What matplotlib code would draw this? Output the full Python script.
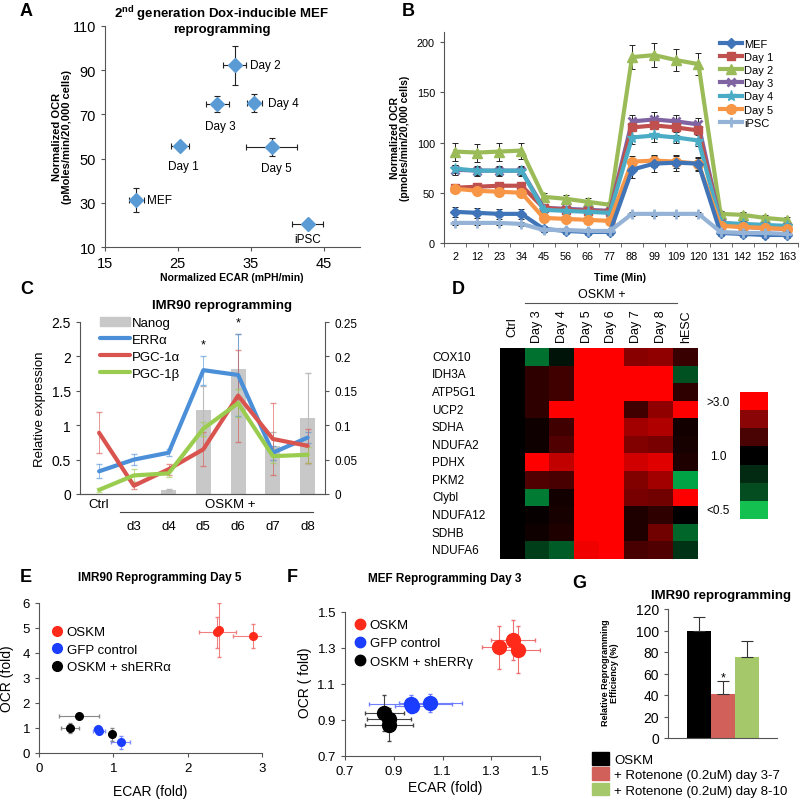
import numpy as np
import matplotlib
matplotlib.use('Agg')
import matplotlib.pyplot as plt
import matplotlib.transforms as mtransforms
from matplotlib.colors import LinearSegmentedColormap, ListedColormap
from matplotlib.lines import Line2D
from matplotlib.patches import Patch

plt.rcParams['font.family'] = ['Liberation Sans', 'DejaVu Sans']
plt.rcParams['axes.linewidth'] = 0.8

W, H = 800, 803

# ---------------- data ----------------
# Panel A
a_labels = ['MEF', 'Day 1', 'Day 2', 'Day 3', 'Day 4', 'Day 5', 'iPSC']
a_ecar = [19.3, 25.3, 32.8, 30.4, 35.5, 37.9, 42.8]
a_ocr = [31.3, 55.5, 92.2, 74.7, 75.0, 55.2, 20.5]
a_ecar_err = [1.0, 1.2, 1.6, 1.6, 1.0, 3.5, 2.1]
a_ocr_err = [5.5, 1.5, 8.9, 3.5, 4.1, 4.1, 1.0]

# Panel B
b_time = ['2', '12', '23', '34', '45', '56', '66', '77', '88', '99', '109', '120', '131', '142', '152', '163']
b_names = ['MEF', 'Day 1', 'Day 2', 'Day 3', 'Day 4', 'Day 5', 'iPSC']
b_mef = [31, 30, 29, 29, 14, 12, 11, 11, 73, 79, 80, 79, 10, 9, 8, 8]
b_day1 = [55, 56, 57, 57, 35, 33, 32, 31, 115, 117, 115, 112, 18, 16, 15, 14]
b_day2 = [91, 90, 91, 92, 46, 44, 41, 38, 185, 187, 182, 178, 29, 28, 25, 23]
b_day3 = [73, 72, 72, 72, 35, 34, 33, 32, 121, 123, 121, 118, 20, 18, 17, 16]
b_day4 = [74, 72, 72, 72, 33, 32, 31, 30, 105, 107, 105, 102, 20, 19, 18, 17]
b_day5 = [54, 52, 51, 50, 25, 24, 23, 22, 81, 82, 81, 79, 17, 16, 15, 14]
b_ipsc = [20, 20, 20, 19, 13, 13, 12, 12, 29, 29, 29, 29, 11, 10, 10, 9]
b_mef_err = [5, 5, 5, 5, 3, 3, 3, 3, 8, 8, 8, 7, 3, 3, 3, 3]
b_day1_err = [4, 4, 4, 4, 3, 3, 3, 3, 8, 8, 8, 8, 3, 3, 3, 3]
b_day2_err = [9, 9, 9, 8, 4, 4, 4, 3, 12, 12, 11, 11, 3, 3, 3, 3]
b_day3_err = [5, 5, 5, 5, 3, 3, 3, 3, 6, 7, 6, 6, 3, 3, 3, 3]
b_day4_err = [4, 4, 4, 4, 3, 3, 3, 3, 6, 6, 5, 5, 3, 3, 3, 3]
b_day5_err = [4, 4, 4, 4, 3, 3, 3, 3, 6, 6, 6, 6, 3, 3, 3, 3]
b_ipsc_err = [2, 2, 2, 2, 2, 2, 2, 2, 2, 2, 2, 2, 2, 2, 2, 2]

# Panel C
c_cats = ['Ctrl', 'd3', 'd4', 'd5', 'd6', 'd7', 'd8']
c_nanog = [0, 0, 0.006, 0.122, 0.182, 0.07, 0.11]
c_nanog_err = [0, 0, 0.001, 0.035, 0.05, 0.02, 0.066]
c_erra = [0.33, 0.50, 0.60, 1.80, 1.73, 0.60, 0.82]
c_erra_err = [0.10, 0.08, 0.05, 0.21, 0.60, 0.10, 0.08]
c_pgc1a = [0.89, 0.12, 0.36, 0.65, 1.43, 0.80, 0.70]
c_pgc1a_err = [0.30, 0.05, 0.08, 0.25, 0.67, 0.52, 0.25]
c_pgc1b = [0.06, 0.27, 0.30, 0.95, 1.32, 0.55, 0.57]
c_pgc1b_err = [0.03, 0.10, 0.05, 0.10, 0.20, 0.10, 0.12]

# Panel D (log2 fold change vs Ctrl)
d_cols = ['Ctrl', 'Day 3', 'Day 4', 'Day 5', 'Day 6', 'Day 7', 'Day 8', 'hESC']
d_genes = ['COX10', 'IDH3A', 'ATP5G1', 'UCP2', 'SDHA', 'NDUFA2', 'PDHX', 'PKM2',
           'Clybl', 'NDUFA12', 'SDHB', 'NDUFA6']
d_values = [
    [0, -0.55, -0.10, 2.0, 2.0, 0.85, 0.90, 0.35],
    [0, 0.30, 0.40, 2.0, 2.0, 2.0, 2.0, -0.40],
    [0, 0.30, 0.40, 2.0, 2.0, 2.0, 2.0, 0.30],
    [0, 0.30, 2.0, 2.0, 2.0, 0.40, 0.90, 2.0],
    [0, 0.10, 0.40, 2.0, 2.0, 1.00, 1.10, 0.12],
    [0, 0.10, 0.50, 2.0, 2.0, 0.80, 0.75, 0.15],
    [0, 2.0, 1.20, 2.0, 2.0, 1.30, 1.40, 0.20],
    [0, 0.50, 0.45, 2.0, 2.0, 0.80, 1.00, -0.80],
    [0, -0.60, 0.12, 2.0, 2.0, 0.75, 0.70, 2.0],
    [0, 0.05, 0.15, 2.0, 2.0, 0.20, 0.30, 0.00],
    [0, 0.10, 0.20, 2.0, 2.0, 0.20, 0.70, -0.50],
    [0, -0.30, -0.45, 1.50, 1.90, 0.45, 0.50, -0.25],
]
d_scale_labels = ['>3.0', '1.0', '<0.5']

# Panel E
e_oskm_x = [2.40, 2.42, 2.88]; e_oskm_y = [4.83, 4.93, 4.68]
e_oskm_xerr = [0.25, 0.02, 0.27]; e_oskm_yerr = [0.62, 1.08, 0.47]
e_gfp_x = [0.79, 0.81, 1.10]; e_gfp_y = [0.98, 0.90, 0.43]
e_gfp_xerr = [0.05, 0.08, 0.13]; e_gfp_yerr = [0.05, 0.05, 0.27]
e_sh_x = [0.42, 0.54, 0.98]; e_sh_y = [1.00, 1.50, 0.75]
e_sh_xerr = [0.12, 0.27, 0.02]; e_sh_yerr = [0.20, 0.05, 0.27]

# Panel F
f_oskm_x = [1.33, 1.39, 1.41]; f_oskm_y = [1.305, 1.345, 1.29]
f_oskm_xerr = [0.07, 0.09, 0.09]; f_oskm_yerr = [0.12, 0.11, 0.13]
f_gfp_x = [0.97, 0.975, 1.05]; f_gfp_y = [0.99, 0.98, 0.995]
f_gfp_xerr = [0.17, 0.07, 0.13]; f_gfp_yerr = [0.05, 0.03, 0.05]
f_sh_x = [0.86, 0.88, 0.88]; f_sh_y = [0.94, 0.905, 0.875]
f_sh_xerr = [0.08, 0.09, 0.10]; f_sh_yerr = [0.10, 0.05, 0.09]

# Panel G
g_labels = ['OSKM', '+ Rotenone (0.2uM) day 3-7', '+ Rotenone (0.2uM) day 8-10']
g_vals = [100, 41, 75]
g_err = [13, 12, 15]

# ---------------- helpers ----------------
fig = plt.figure(figsize=(W / 100, H / 100), dpi=100)


def px_ax(l, t, r, b):
    return fig.add_axes([l / W, 1 - b / H, (r - l) / W, (b - t) / H])


def ftext(x, y, s, **kw):
    return fig.text(x / W, 1 - y / H, s, **kw)


def fline(x0, x1, y, **kw):
    fig.add_artist(Line2D([x0 / W, x1 / W], [1 - y / H, 1 - y / H],
                          transform=fig.transFigure, **kw))


def excel_axes(ax):
    ax.spines['top'].set_visible(False)
    ax.spines['right'].set_visible(False)
    ax.spines['left'].set_color('#555555')
    ax.spines['bottom'].set_color('#555555')
    ax.tick_params(direction='out', length=3, color='#555555')


def panel_label(x, y, s):
    ftext(x, y, s, fontsize=13, fontweight='bold', ha='left', va='center')


# ---------------- Panel A ----------------
axA = px_ax(105, 27, 360, 248)
excel_axes(axA)
axA.errorbar(a_ecar, a_ocr, xerr=a_ecar_err, yerr=a_ocr_err, fmt='D', color='#5B9BD5',
             ms=7, mec='#5B9BD5', ecolor='#222222', elinewidth=0.8, capsize=2.5, capthick=0.8)
axA.set_xlim(15, 50)
axA.set_ylim(10, 110)
axA.set_xticks([15, 25, 35, 45])
axA.set_yticks([10, 30, 50, 70, 90, 110])
axA.tick_params(labelsize=10.5)
a_offsets = [(11, 0, 'left'), (3, -20, 'center'), (15, 0, 'left'), (3, -22, 'center'),
             (14, 0, 'left'), (5, -21, 'center'), (0, -15, 'center')]
for lab, x, y, (dx, dy, ha) in zip(a_labels, a_ecar, a_ocr, a_offsets):
    axA.annotate(lab, (x, y), xytext=(dx * 0.72, dy * 0.72), textcoords='offset points',
                 ha=ha, va='center', fontsize=8.5)
ftext(222, 20, '2$^{\\mathregular{nd}}$ generation Dox-inducible MEF\nreprogramming', fontsize=9.5,
      fontweight='bold', ha='center', va='center', linespacing=1.05)
ftext(232, 278, 'Normalized ECAR (mPH/min)', fontsize=7.5, fontweight='bold', ha='center', va='center')
ftext(62, 137, 'Normalized OCR\n(pMoles/min/20,000 cells)', fontsize=8, fontweight='bold',
      ha='center', va='center', rotation=90, linespacing=1.1)
panel_label(20, 12, 'A')

# ---------------- Panel B ----------------
axB = px_ax(444, 33, 798, 244)
excel_axes(axB)
xb = np.arange(len(b_time))
b_data = [b_mef, b_day1, b_day2, b_day3, b_day4, b_day5, b_ipsc]
b_errs = [b_mef_err, b_day1_err, b_day2_err, b_day3_err, b_day4_err, b_day5_err, b_ipsc_err]
b_colors = ['#3F75B8', '#C0504D', '#9BBB59', '#8064A2', '#4BACC6', '#F79646', '#95B3D7']
b_markers = ['D', 's', '^', 'x', '*', 'o', '+']
b_ms = [5, 6, 7, 6, 8, 7, 7]
for i in range(len(b_names)):
    axB.errorbar(xb, b_data[i], yerr=b_errs[i], fmt='none', ecolor='#222222',
                 elinewidth=0.7, capsize=2, capthick=0.7, zorder=1)
line_objs = {}
for i in [2, 3, 1, 4, 5, 0, 6]:
    ln, = axB.plot(xb, b_data[i], color=b_colors[i], lw=3, marker=b_markers[i], ms=b_ms[i],
                   mew=2 if b_markers[i] in ('x', '+') else 1, mfc=b_colors[i], mec=b_colors[i],
                   label=b_names[i], zorder=2)
    line_objs[i] = ln
axB.set_xlim(-0.5, len(b_time) - 0.5)
axB.set_ylim(0, 210)
axB.set_yticks([0, 50, 100, 150, 200])
axB.set_xticks(xb)
axB.set_xticklabels(b_time)
axB.set_xticks(np.arange(-0.5, len(b_time), 1), minor=True)
axB.tick_params(axis='x', which='major', length=0, labelsize=7.8, pad=6)
axB.tick_params(axis='x', which='minor', length=3, color='#555555')
axB.tick_params(axis='y', labelsize=7.8)
axB.legend([line_objs[i] for i in range(7)], b_names, loc='upper left',
           bbox_to_anchor=(720 / W, 1 - 40 / H), bbox_transform=fig.transFigure,
           frameon=False, fontsize=8, handlelength=2.0, handletextpad=0.15,
           labelspacing=0.28, borderpad=0, borderaxespad=0)
ftext(620, 278, 'Time (Min)', fontsize=7.5, fontweight='bold', ha='center', va='center')
ftext(400, 138, 'Normalized OCR\n(pmoles/min/20,000 cells)', fontsize=7.5, fontweight='bold',
      ha='center', va='center', rotation=90, linespacing=1.1)
panel_label(402, 12, 'B')

# ---------------- Panel C ----------------
axC = px_ax(80, 323, 325, 495)
axC2 = axC.twinx()
xc = np.arange(len(c_cats))
axC2.bar(xc, c_nanog, width=0.43, color='#C8C8C8', label='Nanog', zorder=1)
axC2.errorbar(xc[2:], c_nanog[2:], yerr=c_nanog_err[2:], fmt='none', ecolor='#BBBBBB',
              elinewidth=0.8, capsize=2)
axC.set_zorder(axC2.get_zorder() + 1)
axC.patch.set_visible(False)
c_series = [('ERRα', c_erra, c_erra_err, '#4A8FD8'),
            ('PGC-1α', c_pgc1a, c_pgc1a_err, '#D9534F'),
            ('PGC-1β', c_pgc1b, c_pgc1b_err, '#9ACD4F')]
c_lines = []
for name, vals, errs, col in c_series:
    axC.errorbar(xc, vals, yerr=errs, fmt='none', ecolor=col, elinewidth=0.7, capsize=2.5,
                 alpha=0.6)
for name, vals, errs, col in c_series:
    ln, = axC.plot(xc, vals, color=col, lw=3, label=name, solid_capstyle='round')
    c_lines.append(ln)
axC.set_xlim(-0.55, 6.5)
axC.set_ylim(0, 2.5)
axC2.set_ylim(0, 0.25)
axC.set_yticks([0, 0.5, 1, 1.5, 2, 2.5])
axC.set_yticklabels(['0', '0.5', '1', '1.5', '2', '2.5'])
axC2.set_yticks([0, 0.05, 0.1, 0.15, 0.2, 0.25])
axC2.set_yticklabels(['0', '0.05', '0.1', '0.15', '0.2', '0.25'])
for a in (axC, axC2):
    a.spines['top'].set_visible(False)
    a.spines['left'].set_color('#555555')
    a.spines['right'].set_color('#555555')
    a.spines['bottom'].set_color('#555555')
axC.spines['right'].set_visible(False)
axC2.spines['left'].set_visible(False)
axC.tick_params(axis='y', labelsize=10, direction='out', length=3, color='#555555')
axC2.tick_params(axis='y', labelsize=8.5, direction='out', length=3, color='#555555')
axC.set_xticks(xc)
axC.set_xticklabels(['Ctrl', '', '', '', '', '', ''])
axC.tick_params(axis='x', length=0, labelsize=9.5, pad=3)
axC.text(3, 2.17, '*', ha='center', va='center', fontsize=9)
axC.text(4, 2.5, '*', ha='center', va='center', fontsize=9)
axC.legend([Patch(color='#C8C8C8')] + c_lines, ['Nanog'] + [s[0] for s in c_series],
           loc='upper left', bbox_to_anchor=(100 / W, 1 - 318 / H), bbox_transform=fig.transFigure,
           frameon=False, fontsize=9.5, handlelength=2.3, handletextpad=0.1, labelspacing=0.35,
           borderpad=0, borderaxespad=0)
bt = mtransforms.blended_transform_factory(axC.transData, fig.transFigure)
ftext(230, 505, 'OSKM +', fontsize=9.5, ha='center', va='center')
fline(120, 313, 513, color='#444444', lw=0.8)
for i in range(1, len(c_cats)):
    axC.text(i, 1 - 527 / H, c_cats[i], transform=bt, ha='center', va='center', fontsize=9.5)
ftext(40, 409, 'Relative expression', fontsize=9.5, rotation=90, ha='center', va='center')
ftext(222, 306, 'IMR90 reprogramming', fontsize=9.5, fontweight='bold', ha='center', va='center')
panel_label(20, 290, 'C')

# ---------------- Panel D ----------------
axD = px_ax(500, 349, 698, 560)
cmap = LinearSegmentedColormap.from_list('gbr', [(0.0, '#00CC55'), (1 / 2.585, '#000000'), (1.0, '#FF0000')])
norm = matplotlib.colors.Normalize(vmin=-1.0, vmax=1.585)
axD.imshow(np.array(d_values), cmap=cmap, norm=norm, aspect='auto', interpolation='nearest')
axD.set_xticks([])
axD.set_yticks([])
for s in axD.spines.values():
    s.set_visible(False)
btD = mtransforms.blended_transform_factory(fig.transFigure, axD.transData)
for i, g in enumerate(d_genes):
    axD.text(432 / W, i, g, transform=btD, ha='left', va='center', fontsize=8.5)
btD2 = mtransforms.blended_transform_factory(axD.transData, fig.transFigure)
for j, c in enumerate(d_cols):
    axD.text(j, 1 - 327 / H, c, transform=btD2, rotation=90, ha='center', va='center', fontsize=9)
ftext(602, 295, 'OSKM +', fontsize=9, ha='center', va='center')
fline(525, 677, 304, color='#555555', lw=0.8)
axCb = px_ax(740, 393, 768, 520)
cb_colors = ['#FF0000', '#8A0505', '#4A0303', '#000000', '#022A12', '#034D20', '#14C050']
axCb.imshow(np.arange(len(cb_colors)).reshape(-1, 1), cmap=ListedColormap(cb_colors),
            aspect='auto', interpolation='nearest')
axCb.set_xticks([]); axCb.set_yticks([])
for s in axCb.spines.values():
    s.set_visible(False)
ftext(718, 403, d_scale_labels[0], fontsize=8.5, ha='center', va='center')
ftext(718, 457, d_scale_labels[1], fontsize=8.5, ha='center', va='center')
ftext(718, 511, d_scale_labels[2], fontsize=8.5, ha='center', va='center')
panel_label(452, 290, 'D')

# ---------------- Panel E ----------------
axE = px_ax(39, 604, 262, 754)
excel_axes(axE)
e_sets = [('OSKM', e_oskm_x, e_oskm_y, e_oskm_xerr, e_oskm_yerr, '#FF2A1A', '#F08080'),
          ('GFP control', e_gfp_x, e_gfp_y, e_gfp_xerr, e_gfp_yerr, '#1A3DFF', '#7F8FFF'),
          ('OSKM + shERRα', e_sh_x, e_sh_y, e_sh_xerr, e_sh_yerr, '#000000', '#888888')]
e_handles = []
for name, xs, ys, xe, ye, col, ecol in e_sets:
    axE.errorbar(xs, ys, xerr=xe, yerr=ye, fmt='o', color=col, ms=5.5, ecolor=ecol,
                 elinewidth=0.8, capsize=1.5)
    e_handles.append(Line2D([], [], ls='none', marker='o', color=col, ms=7))
axE.set_xlim(0, 3)
axE.set_ylim(0, 6)
axE.set_xticks([0, 1, 2, 3])
axE.set_yticks([0, 1, 2, 3, 4, 5, 6])
axE.tick_params(labelsize=9.5)
axE.legend(e_handles, [s[0] for s in e_sets], loc='upper left',
           bbox_to_anchor=(52 / W, 1 - 627 / H), bbox_transform=fig.transFigure,
           frameon=False, fontsize=9.5, handlelength=0.8, handletextpad=0.3,
           labelspacing=0.4, borderpad=0, borderaxespad=0)
ftext(150, 792, 'ECAR (fold)', fontsize=10, ha='center', va='center')
ftext(7, 679, 'OCR (fold)', fontsize=10, rotation=90, ha='center', va='center')
ftext(160, 578, 'IMR90 Reprogramming Day 5', fontsize=8.5, fontweight='bold', ha='center', va='center')
panel_label(20, 578, 'E')

# ---------------- Panel F ----------------
axF = px_ax(345, 613, 540, 757)
excel_axes(axF)
f_sets = [('OSKM', f_oskm_x, f_oskm_y, f_oskm_xerr, f_oskm_yerr, '#FF2A1A', '#F07070'),
          ('GFP control', f_gfp_x, f_gfp_y, f_gfp_xerr, f_gfp_yerr, '#1A3DFF', '#6F7FFF'),
          ('OSKM + shERRγ', f_sh_x, f_sh_y, f_sh_xerr, f_sh_yerr, '#000000', '#444444')]
f_handles = []
for name, xs, ys, xe, ye, col, ecol in f_sets:
    axF.errorbar(xs, ys, xerr=xe, yerr=ye, fmt='o', color=col, ms=10, ecolor=ecol,
                 elinewidth=0.8, capsize=1.5)
    f_handles.append(Line2D([], [], ls='none', marker='o', color=col, ms=7.5))
axF.set_xlim(0.7, 1.5)
axF.set_ylim(0.7, 1.5)
axF.set_xticks([0.7, 0.9, 1.1, 1.3, 1.5])
axF.set_yticks([0.7, 0.9, 1.1, 1.3, 1.5])
axF.tick_params(labelsize=9.5)
axF.legend(f_handles, [s[0] for s in f_sets], loc='upper left',
           bbox_to_anchor=(355 / W, 1 - 620 / H), bbox_transform=fig.transFigure,
           frameon=False, fontsize=9.5, handlelength=0.8, handletextpad=0.3,
           labelspacing=0.45, borderpad=0, borderaxespad=0)
ftext(445, 788, 'ECAR (fold)', fontsize=10, ha='center', va='center')
ftext(305, 683, 'OCR ( fold)', fontsize=10, rotation=90, ha='center', va='center')
ftext(445, 579, 'MEF Reprogramming Day 3', fontsize=8.5, fontweight='bold', ha='center', va='center')
panel_label(287, 578, 'F')

# ---------------- Panel G ----------------
axG = px_ax(668, 610, 777, 739)
excel_axes(axG)
g_colors = ['#000000', '#D2605A', '#A5C86A']
xg = np.arange(len(g_vals))
axG.bar(xg, g_vals, width=1.0, color=g_colors)
for x, v, e in zip(xg, g_vals, g_err):
    axG.errorbar([x], [v], yerr=[[0], [e]], fmt='none', ecolor='#333333', elinewidth=0.8,
                 capsize=4, capthick=0.8)
axG.text(1, g_vals[1] + g_err[1] + 3, '*', ha='center', va='center', fontsize=9)
axG.set_xlim(-1.29, 3.25)
axG.set_ylim(0, 120)
axG.set_yticks([0, 20, 40, 60, 80, 100, 120])
axG.set_xticks([])
axG.tick_params(labelsize=10)
axG.legend([Patch(color=c) for c in g_colors], g_labels, loc='upper left',
           bbox_to_anchor=(592 / W, 1 - 753 / H), bbox_transform=fig.transFigure,
           frameon=False, fontsize=9.5, handlelength=1.3, handleheight=1.1, handletextpad=0.4,
           labelspacing=0.12, borderpad=0, borderaxespad=0)
ftext(610, 673, 'Relative Reprogramming\nEfficiency (%)', fontsize=6.5, fontweight='bold',
      rotation=90, ha='center', va='center', linespacing=1.1)
ftext(721, 596, 'IMR90 reprogramming', fontsize=9.5, fontweight='bold', ha='center', va='center')
panel_label(572, 583, 'G')

fig.savefig('out.png', dpi=100)
